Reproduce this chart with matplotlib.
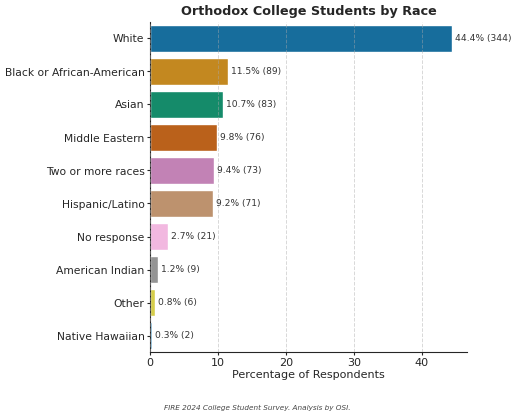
import matplotlib
matplotlib.use("Agg")
import matplotlib.pyplot as plt
import seaborn as sns
import pandas as pd

categories = ["White", "Black or African-American", "Asian", "Middle Eastern",
              "Two or more races", "Hispanic/Latino", "No response",
              "American Indian", "Other", "Native Hawaiian"]
percentages = [44.4, 11.5, 10.7, 9.8, 9.4, 9.2, 2.7, 1.2, 0.8, 0.3]
counts = [344, 89, 83, 76, 73, 71, 21, 9, 6, 2]

df = pd.DataFrame({"Race": categories, "Percentage": percentages, "Count": counts})

sns.set_style("ticks")
plt.rcParams["font.family"] = ["DejaVu Sans"]

fig = plt.figure(figsize=(5.17, 4.15), dpi=100)
ax = fig.add_axes([150/517, 1 - 352/415, 317/517, 330/415])

sns.barplot(data=df, x="Percentage", y="Race", hue="Race", palette="colorblind",
            legend=False, ax=ax, saturation=0.75)

for i, (p, c) in enumerate(zip(percentages, counts)):
    ax.text(p + 0.45, i, f"{p}% ({c})", va="center", ha="left", fontsize=6.6, color="#333333")

ax.set_xlim(0, max(percentages) * 1.05)
ax.set_xticks([0, 10, 20, 30, 40])
ax.xaxis.grid(True, linestyle="--", linewidth=0.7, color="#aaaaaa", alpha=0.45)
ax.set_axisbelow(False)
ax.set_ylabel("")
ax.set_xlabel("Percentage of Respondents", fontsize=8, color="#262626", labelpad=2)
ax.tick_params(axis="y", labelsize=7.75, colors="#262626", length=2.5, pad=1.5)
ax.tick_params(axis="x", labelsize=8, colors="#262626", length=2.5, pad=1.5)
ax.set_title("Orthodox College Students by Race", fontsize=9.2, fontweight="bold",
             color="#262626", pad=5)
sns.despine(ax=ax)

fig.text(0.497, 0.017, "FIRE 2024 College Student Survey. Analysis by OSI.",
         ha="center", va="center", fontsize=5.2, style="italic", color="#444444")

fig.savefig("out.png", dpi=100)
